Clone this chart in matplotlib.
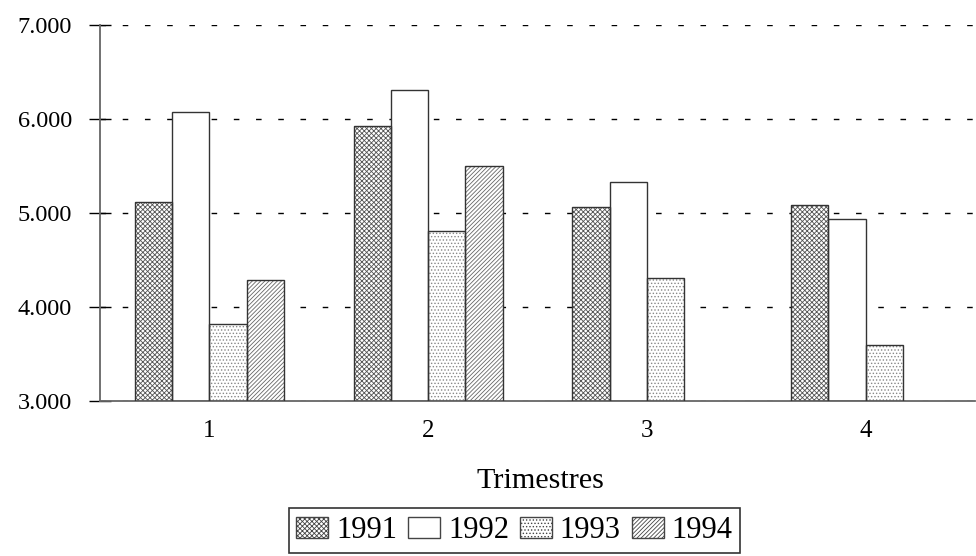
import numpy as np
import matplotlib
matplotlib.use("Agg")
import matplotlib.pyplot as plt
from matplotlib.patches import Patch

plt.rcParams['font.family'] = ['Liberation Serif', 'DejaVu Serif']
plt.rcParams['hatch.linewidth'] = 0.6

# data
trimestres = ['1', '2', '3', '4']
years = ['1991', '1992', '1993', '1994']
v1991 = [5120, 5930, 5060, 5090]
v1992 = [6075, 6305, 5330, 4935]
v1993 = [3820, 4810, 4310, 3600]
v1994 = [4290, 5495, np.nan, np.nan]

series = [v1991, v1992, v1993, v1994]
hatches = ['xxxxxxx', '', '.....', '////////']
hcolors = ['#555555', 'black', '#888888', '#666666']

fig = plt.figure(figsize=(9.76, 5.56), dpi=100)
ax = fig.add_axes([100/976, 1-401/556, 875/976, 376/556])

x = np.arange(len(trimestres))
w = 0.1705
for i, vals in enumerate(series):
    pos = x + (i - 1.5) * w
    ax.bar(pos, np.array(vals) - 3000, width=w, bottom=3000, color='white',
           edgecolor=hcolors[i], hatch=hatches[i], linewidth=0, zorder=2)
    ax.bar(pos, np.array(vals) - 3000, width=w, bottom=3000, color='none',
           edgecolor='#333333', linewidth=1.0, zorder=3)

ax.set_ylim(3000, 7000)
ax.set_xlim(-0.5, 3.5)
ax.set_yticks([3000, 4000, 5000, 6000, 7000])
ax.set_yticklabels(['3.000', '4.000', '5.000', '6.000', '7.000'], fontsize=17.5)
ax.set_xticks(x)
ax.set_xticklabels(trimestres, fontsize=18)
ax.tick_params(axis='x', length=0, pad=14)
ax.tick_params(axis='y', direction='inout', length=16, width=1, pad=12, color='black')
ax.yaxis.grid(True, linestyle=(0, (4, 12)), color='black', linewidth=1, zorder=0)
ax.set_axisbelow(True)
for s in ['top', 'right']:
    ax.spines[s].set_visible(False)
ax.spines['left'].set_color('#666666')
ax.spines['bottom'].set_color('#666666')
ax.spines['left'].set_linewidth(1.3)
ax.spines['bottom'].set_linewidth(1.3)

fig.text(540/976, 1-481/556, 'Trimestres', fontsize=21.7, ha='center', va='center')

handles = [Patch(facecolor='white', edgecolor='#444444', hatch=hatches[i]) for i in range(4)]
leg = fig.legend(handles, years, loc='center', bbox_to_anchor=(514.5/976, 1-530.5/556),
                 ncol=4, fontsize=22, frameon=True, fancybox=False, edgecolor='black',
                 handlelength=1.05, handleheight=0.7, handletextpad=0.26, columnspacing=0.35,
                 borderpad=0.25, borderaxespad=0)
leg.get_frame().set_linewidth(1.2)

fig.savefig('out.png', dpi=100)
